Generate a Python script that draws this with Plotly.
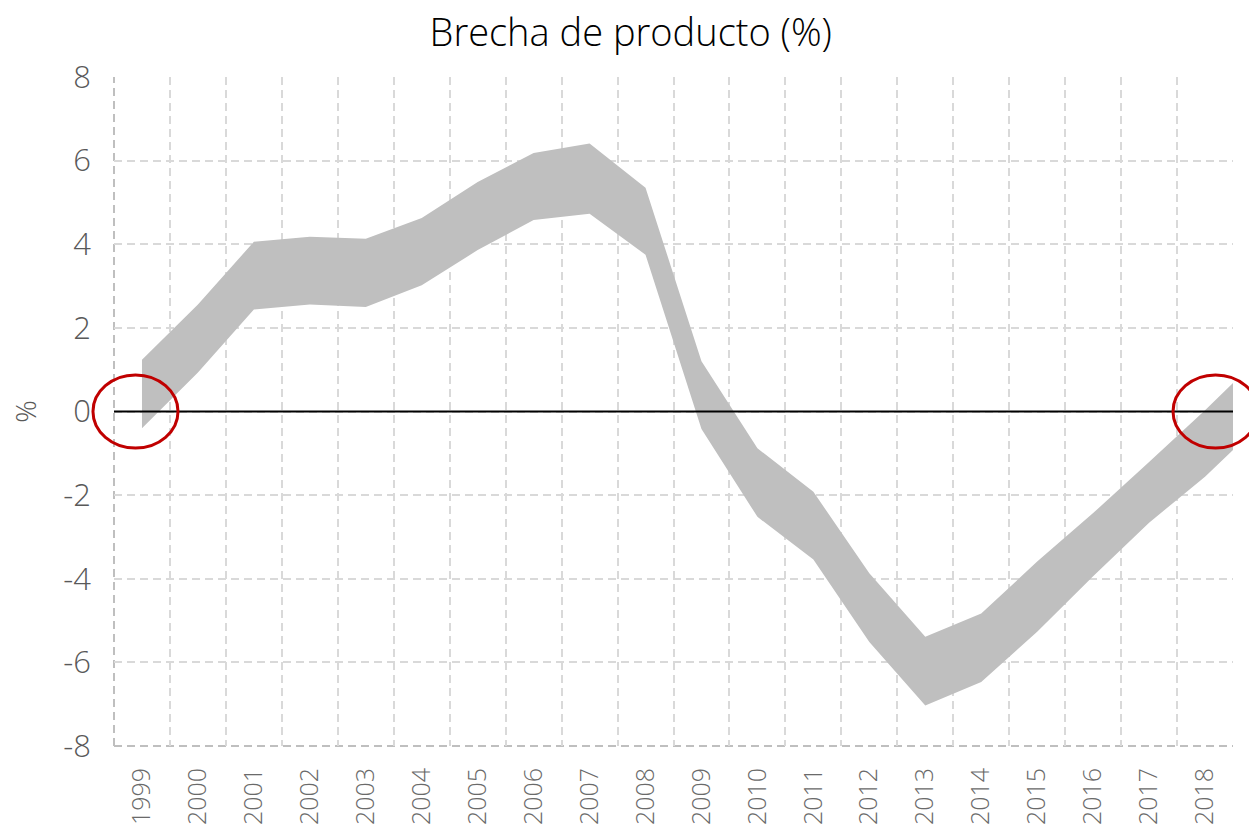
import plotly.graph_objects as go

# ---- data ----
years = [str(y) for y in range(1999, 2020)]  # 2019 point lies beyond the right edge (clipped)
upper = [1.24, 2.56, 4.06, 4.18, 4.13, 4.63, 5.49, 6.18, 6.41, 5.35,
         1.20, -0.88, -1.92, -3.87, -5.39, -4.83, -3.59, -2.43, -1.21, 0.03, 1.33]
lower = [-0.40, 0.93, 2.44, 2.56, 2.50, 3.02, 3.86, 4.58, 4.73, 3.75,
         -0.42, -2.52, -3.54, -5.51, -7.03, -6.47, -5.27, -3.94, -2.66, -1.56, -0.28]
y_ticks = [-8, -6, -4, -2, 0, 2, 4, 6, 8]
y_ticktext = [str(v) for v in y_ticks]

FONT = "Open Sans"
GRAY_TXT = "#595959"
GRID = "#d9d9d9"

fig = go.Figure()
fig.add_trace(go.Scatter(x=years, y=lower, mode="lines", line=dict(width=0),
                         showlegend=False, hoverinfo="skip"))
fig.add_trace(go.Scatter(x=years, y=upper, mode="lines", line=dict(width=0),
                         fill="tonexty", fillcolor="#bfbfbf",
                         showlegend=False, hoverinfo="skip"))

fig.update_layout(
    width=1249, height=830,
    paper_bgcolor="white", plot_bgcolor="white",
    margin=dict(l=114, r=16, t=77, b=84, autoexpand=False),
    title=dict(text="Brecha de producto (%)", x=0.505, xanchor="center",
               y=1 - 33 / 830, yref="container", yanchor="middle",
               font=dict(family=FONT, size=38, color="black", weight=300)),
    font=dict(family=FONT, color=GRAY_TXT),
)

fig.update_xaxes(
    type="category", range=[-0.5, 19.5], tickson="boundaries",
    showgrid=True, gridcolor=GRID, gridwidth=2, griddash="8px,5px",
    showline=False, zeroline=False, ticks="",
    tickangle=-90, tickfont=dict(family=FONT, size=25, color="#6a6a6a", weight=300),
    ticklabelstandoff=16,
)
fig.update_yaxes(
    range=[-8, 8], tickvals=y_ticks, ticktext=y_ticktext,
    showgrid=True, gridcolor=GRID, gridwidth=2, griddash="8px,5px",
    zeroline=False, showline=False, ticks="",
    tickfont=dict(family=FONT, size=31, color=GRAY_TXT, weight=300),
    ticklabelstandoff=22,
    title=dict(text="%", font=dict(family=FONT, size=28, color=GRAY_TXT, weight=300), standoff=18),
)

# zero line above the band
fig.add_shape(type="line", xref="paper", x0=0, x1=1, yref="y", y0=0, y1=0,
              line=dict(color="black", width=2), layer="above")
# left and bottom dashed frame
fig.add_shape(type="line", xref="paper", x0=0, x1=0, yref="paper", y0=0, y1=1,
              line=dict(color="#bfbfbf", width=2, dash="8px,5px"), layer="below")
fig.add_shape(type="line", xref="paper", x0=0, x1=1, yref="paper", y0=0, y1=0,
              line=dict(color="#bfbfbf", width=2, dash="8px,5px"), layer="below")

# red ellipses highlighting start and end
fig.add_shape(type="circle", xref="paper", yref="paper",
              x0=-0.0188, x1=0.0572, y0=0.4454, y1=0.5546,
              line=dict(color="#c00000", width=3), layer="above")
fig.add_shape(type="circle", xref="paper", yref="paper",
              x0=0.9464, x1=1.0224, y0=0.4454, y1=0.5546,
              line=dict(color="#c00000", width=3), layer="above")

fig.write_html("out.html", config={"displayModeBar": False},
               post_script="document.body.style.margin='0';")
